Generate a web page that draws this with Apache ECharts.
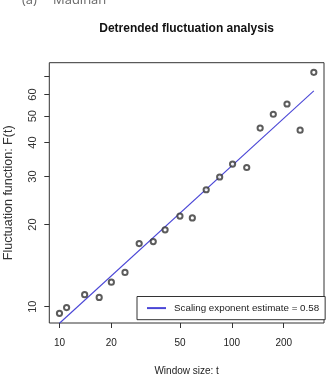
<!DOCTYPE html>
<html>
<head>
<meta charset="utf-8">
<script src="https://cdn.jsdelivr.net/npm/echarts@6/dist/echarts.min.js"></script>
<style>html,body{margin:0;padding:0;background:#fff}#c{width:328px;height:378px}</style>
</head>
<body>
<div id="c"></div>
<script>
// Window sizes t and fluctuation function F(t)
const windowSizes = [10, 11, 14, 17, 20, 24, 29, 35, 41, 50, 59, 71, 85, 101, 122, 146, 174, 209, 249, 299];
const fluctuation = [9.45, 9.92, 11.06, 10.81, 12.3, 13.35, 17.04, 17.33, 19.13, 21.5, 21.16, 26.85, 29.9, 33.35, 32.4, 45.2, 50.8, 55.4, 44.4, 72.4];
// fitted line endpoints
const fitX = [10, 299];
const fitY = [8.69, 61.9];
const xTicks = [10, 20, 50, 100, 200];
const yTicks = [10, 20, 30, 40, 50, 60, 70];
const yTickLabels = [10, 20, 30, 40, 50, 60];
const legendLabel = 'Scaling exponent estimate = 0.58';

const lg = Math.log10;
const font = '"Liberation Sans", Arial, sans-serif';
const chart = echarts.init(document.getElementById('c'), null, {renderer: 'canvas'});
chart.setOption({
  animation: false,
  backgroundColor: '#fff',
  title: {
    text: 'Detrended fluctuation analysis',
    left: 186.6, top: 23, padding: 0, textAlign: 'center',
    textStyle: {fontFamily: font, fontSize: 12, fontWeight: 'bold', color: '#111'}
  },
  graphic: [
    {type: 'text', x: 22, y: 0, style: {text: '(a)', fontFamily: '"Open Sans", sans-serif', fontSize: 13, fill: '#666', verticalAlign: 'middle'}},
    {type: 'text', x: 53, y: 0, style: {text: 'Madinah', fontFamily: '"Open Sans", sans-serif', fontSize: 13, fill: '#666', verticalAlign: 'middle'}}
  ],
  grid: {left: 49.3, top: 62.7, right: 4, bottom: 55, show: true, borderColor: '#333', borderWidth: 1, backgroundColor: 'transparent', containLabel: false, outerBoundsMode: 'none'},
  legend: {
    data: [legendLabel],
    left: 137, top: 296.5,
    padding: [6, 6, 6, 9],
    itemWidth: 19, itemHeight: 14,
    itemStyle: {opacity: 0},
    borderColor: '#333', borderWidth: 1, borderRadius: 0,
    backgroundColor: '#fff',
    textStyle: {fontFamily: font, fontSize: 9.8, color: '#222', padding: [0, 0, 0, 3]}
  },
  xAxis: {
    type: 'value', min: 0.941, max: 2.5347,
    name: 'Window size: t', nameLocation: 'middle', nameGap: 43,
    nameTextStyle: {fontFamily: font, fontSize: 10, color: '#222'},
    axisLine: {show: false},
    splitLine: {show: false},
    axisTick: {show: true, customValues: xTicks.map(lg), length: 5, lineStyle: {color: '#333', width: 1}},
    axisLabel: {customValues: xTicks.map(lg), formatter: v => String(Math.round(Math.pow(10, v))), fontFamily: font, fontSize: 10, color: '#222', margin: 15}
  },
  yAxis: {
    type: 'value', min: 0.940, max: 1.8951,
    name: 'Fluctuation function: F(t)', nameLocation: 'middle', nameGap: 34,
    nameTextStyle: {fontFamily: font, fontSize: 12.5, color: '#333'},
    axisLine: {show: false},
    splitLine: {show: false},
    axisTick: {show: true, customValues: yTicks.map(lg), length: 5, lineStyle: {color: '#333', width: 1}},
    axisLabel: {customValues: yTickLabels.map(lg), rotate: 90, formatter: v => String(Math.round(Math.pow(10, v))), fontFamily: font, fontSize: 11, color: '#333', margin: 11}
  },
  series: [
    {
      type: 'scatter',
      data: windowSizes.map((x, i) => [lg(x), lg(fluctuation[i])]),
      symbol: 'emptyCircle', symbolSize: 5.2,
      itemStyle: {color: '#333', borderColor: '#333', borderWidth: 0.75},
      z: 3
    },
    {
      type: 'line', name: legendLabel,
      data: fitX.map((x, i) => [lg(x), lg(fitY[i])]),
      symbol: 'none', clip: true,
      lineStyle: {color: '#4a46d6', width: 1.1},
      itemStyle: {color: '#4a46d6'},
      z: 2
    }
  ]
});
</script>
</body>
</html>
